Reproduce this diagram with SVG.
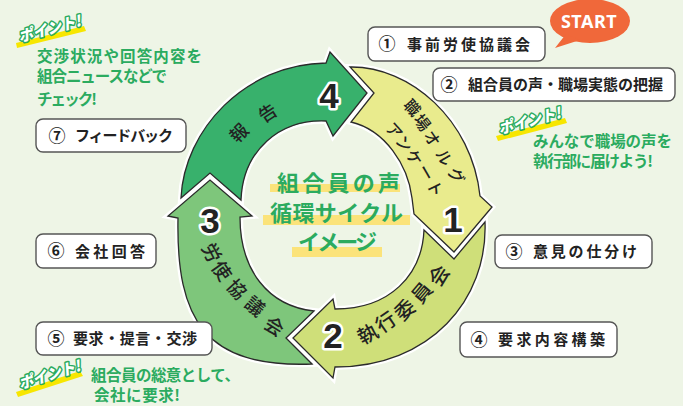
<svg xmlns="http://www.w3.org/2000/svg" width="683" height="406" viewBox="0 0 683 406">
<defs>
<style>
.halo{fill:none;stroke:#fff;stroke-width:6;stroke-linejoin:miter}
.arr{stroke:#2b2b2b;stroke-width:1.3;stroke-linejoin:miter}
.box{fill:#fff;stroke:#555;stroke-width:1.4}
.lbl{font-family:"Noto Sans CJK JP","Noto Sans",sans-serif;font-weight:700;font-size:15px;fill:#222}
.cn{font-family:"Noto Sans CJK JP","Noto Sans",sans-serif;font-weight:700;font-size:17px;fill:#222;text-anchor:middle}
.ring{font-family:"Noto Sans CJK JP","Noto Sans",sans-serif;font-weight:500;fill:#222;text-anchor:middle;dominant-baseline:central}
.dig{font-family:"Liberation Sans",Arial,sans-serif;font-weight:700;font-size:35px;fill:#222;stroke:#fff;stroke-width:5;paint-order:stroke;stroke-linejoin:round;text-anchor:middle}
.pt{font-family:"Noto Sans CJK JP","Noto Sans",sans-serif;font-weight:700;font-size:15.5px;fill:#2bab5f}
.poi{font-family:"Noto Sans CJK JP","Noto Sans",sans-serif;font-weight:900;font-style:italic;font-size:15px;fill:#fff;stroke:#2bab5f;stroke-width:3;paint-order:stroke;stroke-linejoin:round;text-anchor:middle}
.stripe{fill:#f7e600}
.hl{fill:#fbe37a}
.ctr{font-family:"Noto Sans CJK JP","Noto Sans",sans-serif;font-weight:700;font-size:22px;fill:#2bab5f}
</style>
</defs>
<rect width="683" height="406" fill="#eef5e6"/>

<g id="connectors">
<g id="arrow4">
<path class="halo" d="M181,198 C 184,130 245,64 326,63 L 330,52 L 367,93 L 333,136 L 326,121 C 280,119 243,150 241,200 L 210,173 Z"/>
<path class="arr" fill="#38b16c" d="M181,198 C 184,130 245,64 326,63 L 330,52 L 367,93 L 333,136 L 326,121 C 280,119 243,150 241,200 L 210,173 Z"/>
</g>
<g id="arrow1">
<path class="halo" d="M350,67 C 410,66 472,120 480,196 L 492,207 L 454,252 L 414,214 L 412,198 C 408,165 385,130 351,122 L 374,93 Z"/>
<path class="arr" fill="#e9eb8d" d="M350,67 C 410,66 472,120 480,196 L 492,207 L 454,252 L 414,214 L 412,198 C 408,165 385,130 351,122 L 374,93 Z"/>
</g>
<g id="arrow2">
<path class="halo" d="M485,222 C 488,300 430,367 335,367 L 333,378 L 293,338 L 333,299 L 335,309 C 390,309 422,275 424,230 L 454,259 Z"/>
<path class="arr" fill="#cfdf79" d="M485,222 C 488,300 430,367 335,367 L 333,378 L 293,338 L 333,299 L 335,309 C 390,309 422,275 424,230 L 454,259 Z"/>
</g>
<g id="arrow3">
<path class="halo" d="M312,364 C 205,368 176,320 178,218 L 168,216 L 210,180 L 252,216 L 240,217 C 240,270 268,306 314,311 L 286,338 Z"/>
<path class="arr" fill="#7ec67b" d="M312,364 C 205,368 176,320 178,218 L 168,216 L 210,180 L 252,216 L 240,217 C 240,270 268,306 314,311 L 286,338 Z"/>
</g>
</g>

<g id="step4-text">
<text class="ring" font-size="18" transform="translate(238,132) rotate(-45)">報</text>
<text class="ring" font-size="18" transform="translate(267,112) rotate(-33)">告</text>
<text class="dig" x="329" y="108">4</text>
</g>
<g id="step1-text">
<text class="ring" font-size="16" transform="translate(413,107) rotate(48)">職</text>
<text class="ring" font-size="16" transform="translate(423,122) rotate(52)">場</text>
<text class="ring" font-size="16" transform="translate(433,138) rotate(56)">オ</text>
<text class="ring" font-size="16" transform="translate(445,157) rotate(60)">ル</text>
<text class="ring" font-size="16" transform="translate(457,175) rotate(64)">グ</text>
<text class="ring" font-size="16" transform="translate(395,130) rotate(48)">ア</text>
<text class="ring" font-size="16" transform="translate(405,143) rotate(52)">ン</text>
<text class="ring" font-size="16" transform="translate(415,157) rotate(56)">ケ</text>
<text class="ring" font-size="16" transform="translate(427,172) rotate(60)">ー</text>
<text class="ring" font-size="16" transform="translate(436,188) rotate(64)">ト</text>
<text class="dig" x="453" y="232">1</text>
</g>
<g id="step2-text">
<text class="ring" font-size="20" transform="translate(367,333) rotate(-28)">執</text>
<text class="ring" font-size="20" transform="translate(385,321) rotate(-35)">行</text>
<text class="ring" font-size="20" transform="translate(404,309) rotate(-42)">委</text>
<text class="ring" font-size="20" transform="translate(421,292) rotate(-50)">員</text>
<text class="ring" font-size="20" transform="translate(438,275) rotate(-57)">会</text>
<text class="dig" x="333" y="348">2</text>
</g>
<g id="step3-text">
<text class="ring" font-size="19" transform="translate(213,252) rotate(62)">労</text>
<text class="ring" font-size="19" transform="translate(223,270) rotate(55)">使</text>
<text class="ring" font-size="19" transform="translate(238,288) rotate(48)">協</text>
<text class="ring" font-size="19" transform="translate(256,305) rotate(40)">議</text>
<text class="ring" font-size="19" transform="translate(275,325) rotate(32)">会</text>
<text class="dig" x="210" y="233">3</text>
</g>

<g id="center">
<rect class="hl" x="270" y="184" width="130" height="8"/>
<rect class="hl" x="263" y="215" width="147" height="10"/>
<rect class="hl" x="292" y="247" width="90" height="10"/>
<text class="ctr" x="277" y="191" textLength="123" lengthAdjust="spacing">組合員の声</text>
<text class="ctr" x="270" y="221" textLength="133" lengthAdjust="spacing">循環サイクル</text>
<text class="ctr" x="298" y="250" textLength="79" lengthAdjust="spacing">イメージ</text>
</g>

<g id="start">
<ellipse cx="590" cy="21" rx="40" ry="22" fill="#f0683a"/>
<path d="M566,34 L555,48 L580,40 Z" fill="#f0683a"/>
<text x="589" y="28" font-family="'Noto Sans','Liberation Sans',sans-serif" font-weight="700" font-size="18" fill="#fff" text-anchor="middle" letter-spacing="0.5">START</text>
</g>

<g id="label1">
<rect class="box" x="368" y="27" width="177" height="34" rx="7"/>
<text class="cn" x="387" y="50">①</text>
<text class="lbl" x="407" y="49.5" textLength="123" lengthAdjust="spacing">事前労使協議会</text>
</g>
<g id="label2">
<rect class="box" x="433" y="68" width="242" height="33" rx="7"/>
<text class="cn" x="449" y="90.5">②</text>
<text class="lbl" x="468" y="90" textLength="195" lengthAdjust="spacing">組合員の声・職場実態の把握</text>
</g>
<g id="label3">
<rect class="box" x="495" y="235" width="157" height="33" rx="7"/>
<text class="cn" x="514" y="257.5">③</text>
<text class="lbl" x="533" y="257" textLength="104" lengthAdjust="spacing">意見の仕分け</text>
</g>
<g id="label4">
<rect class="box" x="460" y="322" width="157" height="35" rx="7"/>
<text class="cn" x="479" y="345.5">④</text>
<text class="lbl" x="498" y="345" textLength="107" lengthAdjust="spacing">要求内容構築</text>
</g>
<g id="label5">
<rect class="box" x="36" y="322" width="176" height="33" rx="7"/>
<text class="cn" x="56" y="344.5">⑤</text>
<text class="lbl" x="73" y="344" textLength="124" lengthAdjust="spacing">要求・提言・交渉</text>
</g>
<g id="label6">
<rect class="box" x="36" y="234" width="120" height="34" rx="7"/>
<text class="cn" x="56" y="257">⑥</text>
<text class="lbl" x="75" y="256.5" textLength="70" lengthAdjust="spacing">会社回答</text>
</g>
<g id="label7">
<rect class="box" x="36" y="119" width="150" height="33" rx="7"/>
<text class="cn" x="57" y="141.5">⑦</text>
<text class="lbl" x="75" y="141" textLength="98" lengthAdjust="spacing">フィードバック</text>
</g>

<g id="point-top">
<path class="stripe" d="M16,43 L84,26 L86,31 L17,48 Z"/>
<text class="poi" transform="translate(51,34) rotate(-15)" textLength="64" lengthAdjust="spacingAndGlyphs">ポイント!</text>
<text class="pt" x="37" y="62" textLength="165" lengthAdjust="spacing">交渉状況や回答内容を</text>
<text class="pt" x="37" y="82" textLength="130" lengthAdjust="spacing">組合ニュースなどで</text>
<text class="pt" x="37" y="105" textLength="60" lengthAdjust="spacing">チェック!</text>
</g>
<g id="point-right">
<path class="stripe" d="M496,136 L565,118 L567,123 L498,141 Z"/>
<text class="poi" transform="translate(531,126) rotate(-15)" textLength="64" lengthAdjust="spacingAndGlyphs">ポイント!</text>
<text class="pt" x="533" y="147" textLength="139" lengthAdjust="spacing">みんなで職場の声を</text>
<text class="pt" x="533" y="167" textLength="120" lengthAdjust="spacing">執行部に届けよう!</text>
</g>
<g id="point-bottom">
<path class="stripe" d="M16,392 L80,371 L83,376 L18,397 Z"/>
<text class="poi" transform="translate(51,380) rotate(-17)" textLength="64" lengthAdjust="spacingAndGlyphs">ポイント!</text>
<text class="pt" x="91" y="381" textLength="149" lengthAdjust="spacing">組合員の総意として、</text>
<text class="pt" x="94" y="401" textLength="86" lengthAdjust="spacing">会社に要求!</text>
</g>
</svg>
